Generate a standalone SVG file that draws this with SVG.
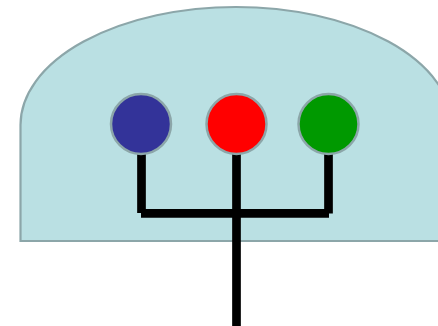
<svg xmlns="http://www.w3.org/2000/svg" width="438" height="326" viewBox="0 0 438 326">
<style>
.dome{fill:#bae0e3;stroke:#8ca6a9;stroke-width:2.2}
.node{stroke:#8ca6a9;stroke-width:2.5}
.wire{stroke:#000;stroke-width:8.7;fill:none;stroke-linecap:butt}
</style>
<rect width="438" height="326" fill="#fff"/>
<g id="container">
<path class="dome" d="M20.5,241 L20.5,125 A215.5,118 0 0 1 451.5,125 L451.5,241 Z"/>
</g>
<g id="connectors">
<line class="wire" x1="141.5" y1="153" x2="141.5" y2="213"/>
<line class="wire" x1="328.5" y1="153" x2="328.5" y2="213.5"/>
<line class="wire" x1="141" y1="213.3" x2="329" y2="213.3"/>
<line class="wire" x1="236.5" y1="153" x2="236.5" y2="326"/>
</g>
<g id="blue"><circle class="node" cx="141" cy="124" r="30" fill="#333399"/></g>
<g id="red"><circle class="node" cx="236.5" cy="124" r="30" fill="#ff0000"/></g>
<g id="green"><circle class="node" cx="328.5" cy="124" r="30" fill="#009900"/></g>
</svg>
